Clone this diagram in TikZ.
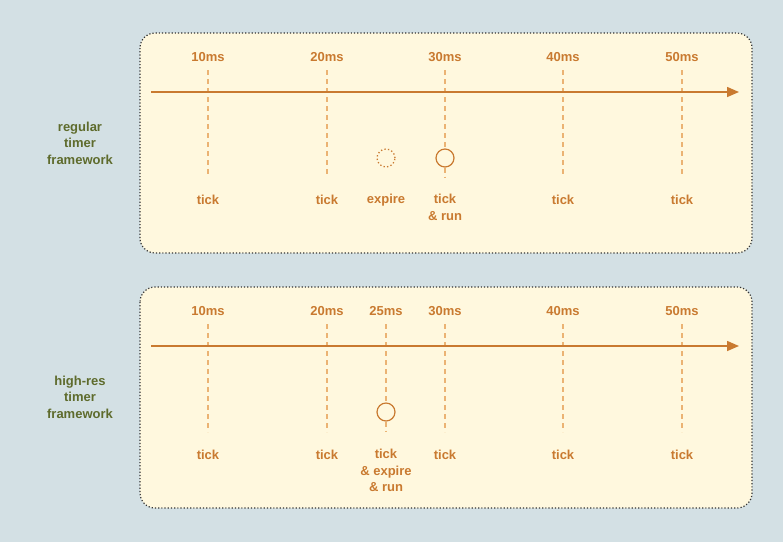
\documentclass[tikz,border=0pt]{standalone}
\usepackage{fontspec}
\setmainfont{Liberation Sans}
\usetikzlibrary{arrows.meta}
\definecolor{bgc}{HTML}{D3E0E4}
\definecolor{panelc}{HTML}{FFF8DE}
\definecolor{orc}{HTML}{C97A30}
\definecolor{dashc}{HTML}{EBB373}
\definecolor{grn}{HTML}{5E6B2C}
\definecolor{brd}{HTML}{333333}
\tikzset{
  panel/.style={draw=brd, fill=panelc, line width=1.2pt, dash pattern=on 1.2pt off 2pt, rounded corners=15pt},
  lbl/.style={font=\bfseries\fontsize{13}{16.5}\selectfont, text=orc, align=center, inner sep=0pt},
  side/.style={font=\bfseries\fontsize{13}{16.5}\selectfont, text=grn, align=center, inner sep=0pt},
  tline/.style={draw=dashc, line width=1.3pt, dash pattern=on 5pt off 4pt},
  axis/.style={draw=orc, line width=1.5pt, -{Triangle[length=12pt,width=10pt]}},
  evt/.style={circle, draw=orc, line width=1.2pt, minimum size=18pt, inner sep=0pt, fill=panelc},
  ghost/.style={circle, draw=orc, line width=1.3pt, dash pattern=on 1.3pt off 2.3pt, minimum size=18pt, inner sep=0pt}
}
\begin{document}
\begin{tikzpicture}[x=1pt,y=-1pt]
\fill[bgc] (0,0) rectangle (783,542);
\useasboundingbox (0,0) rectangle (783,542);
% panels
\draw[panel] (140,33) rectangle (752,253);
\draw[panel] (140,287) rectangle (752,508);
% side labels
\node[side] (s1) at (80,143) {regular\\timer\\framework};
\node[side] (s2) at (80,397) {high-res\\timer\\framework};
% ===== top panel
\foreach \x/\t/\n in {208/10ms/a,327/20ms/b,445/30ms/c,563/40ms/d,682/50ms/e}{
  \node[lbl] (t\n) at (\x,57) {\t};
  \coordinate (u\n) at (\x,70);
  \coordinate (l\n) at (\x,177);
}
\foreach \n in {a,b,d,e}{ \draw[tline] (u\n) -- (l\n); }
\node[evt] (run1) at (445,158) {};
\draw[tline] (uc) -- (run1.north);
\draw[tline] (run1.south) -- (lc);
\node[ghost] (exp1) at (386,158) {};
\coordinate (as1) at (151,92);
\coordinate (ae1) at (739,92);
\draw[axis] (as1) -- (ae1);
\node[lbl] (k1) at (208,200) {tick};
\node[lbl] (k2) at (327,200) {tick};
\node[lbl] (k3) at (386,200) {expire};
\node[lbl,anchor=north] (k4) at (445,194) {tick\\\& run};
\node[lbl] (k5) at (563,200) {tick};
\node[lbl] (k6) at (682,200) {tick};
% ===== bottom panel
\foreach \x/\t/\n in {208/10ms/a,327/20ms/b,386/25ms/f,445/30ms/c,563/40ms/d,682/50ms/e}{
  \node[lbl] (b\n) at (\x,311) {\t};
  \coordinate (v\n) at (\x,324);
  \coordinate (w\n) at (\x,432);
}
\foreach \n in {a,b,c,d,e}{ \draw[tline] (v\n) -- (w\n); }
\node[evt] (run2) at (386,412) {};
\draw[tline] (vf) -- (run2.north);
\draw[tline] (run2.south) -- (wf);
\coordinate (as2) at (151,346);
\coordinate (ae2) at (739,346);
\draw[axis] (as2) -- (ae2);
\node[lbl] (m1) at (208,455) {tick};
\node[lbl] (m2) at (327,455) {tick};
\node[lbl,anchor=north] (m3) at (386,449) {tick\\\& expire\\\& run};
\node[lbl] (m4) at (445,455) {tick};
\node[lbl] (m5) at (563,455) {tick};
\node[lbl] (m6) at (682,455) {tick};
\end{tikzpicture}
\end{document}
